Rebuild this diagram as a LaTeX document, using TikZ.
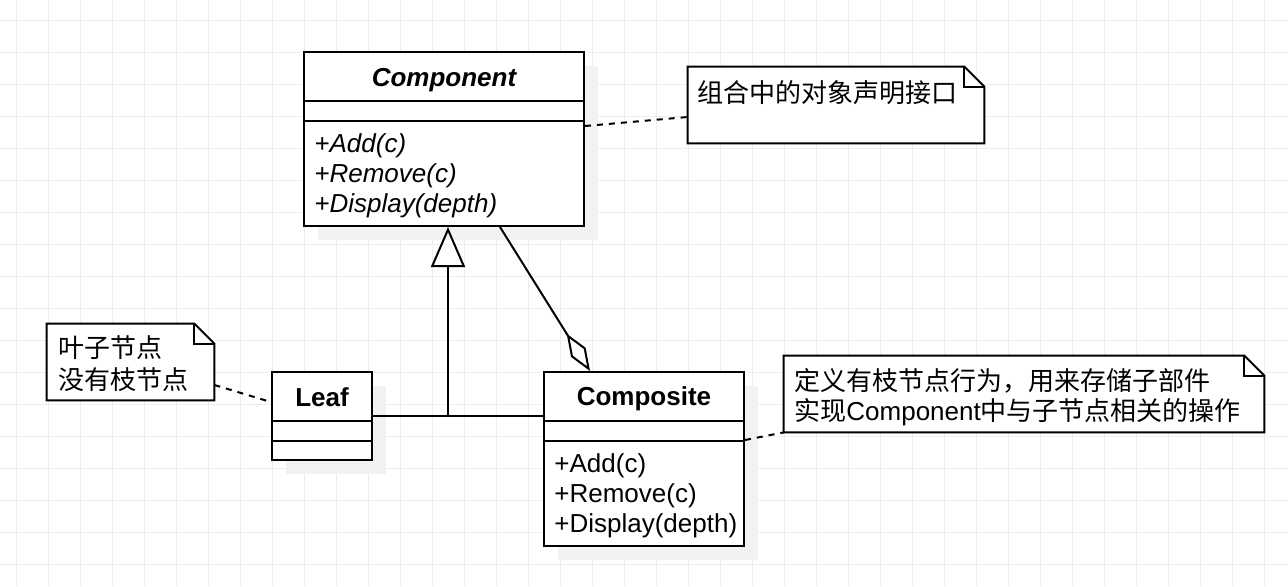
\documentclass[tikz,border=0pt]{standalone}
\usepackage{fontspec}
\setmainfont{Liberation Sans}
\newfontfamily\cjk{Noto Sans CJK SC}
\usepackage{xcolor}
\definecolor{UMLgrid}{HTML}{EDEDED}
\definecolor{UMLshadow}{HTML}{F2F2F2}
\usepackage{tikz}
\usetikzlibrary{arrows.meta, shadows, positioning}

\begin{document}
\begin{tikzpicture}[x=0.5pt, y=-0.5pt,
  gridline/.style={UMLgrid, line width=0.5pt},
  classbox/.style={draw, line width=1pt, fill=white, inner sep=0pt,
    drop shadow={shadow xshift=7pt, shadow yshift=-7pt, fill=UMLshadow, opacity=1}},
  notebox/.style={inner sep=0pt},
  umltext/.style={inner sep=0pt, font=\fontsize{13pt}{15pt}\selectfont},
  cjktext/.style={inner sep=0pt, anchor=base west, font=\fontsize{13pt}{15pt}\selectfont\cjk},
  umlline/.style={line width=1pt},
  noteline/.style={line width=1pt, dash pattern=on 3pt off 3pt}]

  % Canvas and background grid
  \fill[white] (0,0) rectangle (1288,586);
  \useasboundingbox (0,0) rectangle (1288,586);
  \draw[gridline, step=16pt, shift={(16,20)}] (-16,-20) grid (1272,566);

  % Component (abstract)
  \node[classbox, minimum width=140pt, minimum height=87pt] (component) at (444,139) {};
  \draw[umlline] ([yshift=-25pt]component.north west) -- ([yshift=-25pt]component.north east);
  \draw[umlline] ([yshift=-35pt]component.north west) -- ([yshift=-35pt]component.north east);
  \node[umltext, anchor=base] (comptitle) at (444,86) {\bfseries\itshape Component};
  \node[umltext, anchor=base west] (compadd) at (314,152) {\itshape +Add(c)};
  \node[umltext, anchor=base west] (compremove) at (314,182) {\itshape +Remove(c)};
  \node[umltext, anchor=base west] (compdisplay) at (314,212) {\itshape +Display(depth)};

  % Leaf
  \node[classbox, minimum width=50pt, minimum height=44pt] (leaf) at (322,416) {};
  \draw[umlline] ([yshift=-25pt]leaf.north west) -- ([yshift=-25pt]leaf.north east);
  \draw[umlline] ([yshift=-35pt]leaf.north west) -- ([yshift=-35pt]leaf.north east);
  \node[umltext, anchor=base] (leaftitle) at (322,406) {\bfseries Leaf};

  % Composite
  \node[classbox, minimum width=100pt, minimum height=87pt] (composite) at (644,459) {};
  \draw[umlline] ([yshift=-25pt]composite.north west) -- ([yshift=-25pt]composite.north east);
  \draw[umlline] ([yshift=-35pt]composite.north west) -- ([yshift=-35pt]composite.north east);
  \node[umltext, anchor=base] (compositetitle) at (644,405) {\bfseries Composite};
  \node[umltext, anchor=base west] (compositeadd) at (554,472) {+Add(c)};
  \node[umltext, anchor=base west] (compositeremove) at (554,502) {+Remove(c)};
  \node[umltext, anchor=base west] (compositedisplay) at (554,532) {+Display(depth)};

  % Notes (folded corner)
  \node[notebox, minimum width=148pt, minimum height=38pt] (note1) at (836,105) {};
  \draw[umlline, fill=white] (note1.south west) -- (note1.north west)
    -- ([xshift=-10pt]note1.north east) -- ([yshift=-10pt]note1.north east)
    -- (note1.south east) -- cycle;
  \draw[umlline] ([xshift=-10pt]note1.north east) |- ([yshift=-10pt]note1.north east);
  \node[cjktext] (note1text) at (697,102) {组合中的对象声明接口};

  \node[notebox, minimum width=83.5pt, minimum height=38pt] (note2) at (130.5,362) {};
  \draw[umlline, fill=white] (note2.south west) -- (note2.north west)
    -- ([xshift=-10pt]note2.north east) -- ([yshift=-10pt]note2.north east)
    -- (note2.south east) -- cycle;
  \draw[umlline] ([xshift=-10pt]note2.north east) |- ([yshift=-10pt]note2.north east);
  \node[cjktext] (note2first) at (58,357) {叶子节点};
  \node[cjktext] (note2second) at (58,389) {没有枝节点};

  \node[notebox, minimum width=240pt, minimum height=38pt] (note3) at (1024,394) {};
  \draw[umlline, fill=white] (note3.south west) -- (note3.north west)
    -- ([xshift=-10pt]note3.north east) -- ([yshift=-10pt]note3.north east)
    -- (note3.south east) -- cycle;
  \draw[umlline] ([xshift=-10pt]note3.north east) |- ([yshift=-10pt]note3.north east);
  \node[cjktext] (note3first) at (794,390) {定义有枝节点行为，用来存储子部件};
  \node[cjktext] (note3second) at (794,420) {实现{\rmfamily Component}中与子节点相关的操作};

  % Generalisation Leaf/Composite -> Component
  \coordinate (branch) at (448,416);
  \draw[umlline] (leaf.east) -- ([yshift=21.5pt]composite.west);
  \draw[umlline, -{Triangle[open, length=20pt, width=17pt]}] (branch) -- ([xshift=2pt]component.south);

  % Aggregation Composite <>- Component
  \draw[umlline, -{Diamond[open, length=22pt, width=8.6pt]}]
    ([xshift=28pt]component.south) -- ([xshift=-27pt]composite.north);

  % Note anchors
  \draw[noteline] ([yshift=6.5pt]component.east) -- ([yshift=-6pt]note1.west);
  \draw[noteline] ([yshift=-11.5pt]note2.east) -- ([yshift=7pt]leaf.west);
  \draw[noteline] ([yshift=9.5pt]composite.east) -- (note3.south west);

\end{tikzpicture}
\end{document}
